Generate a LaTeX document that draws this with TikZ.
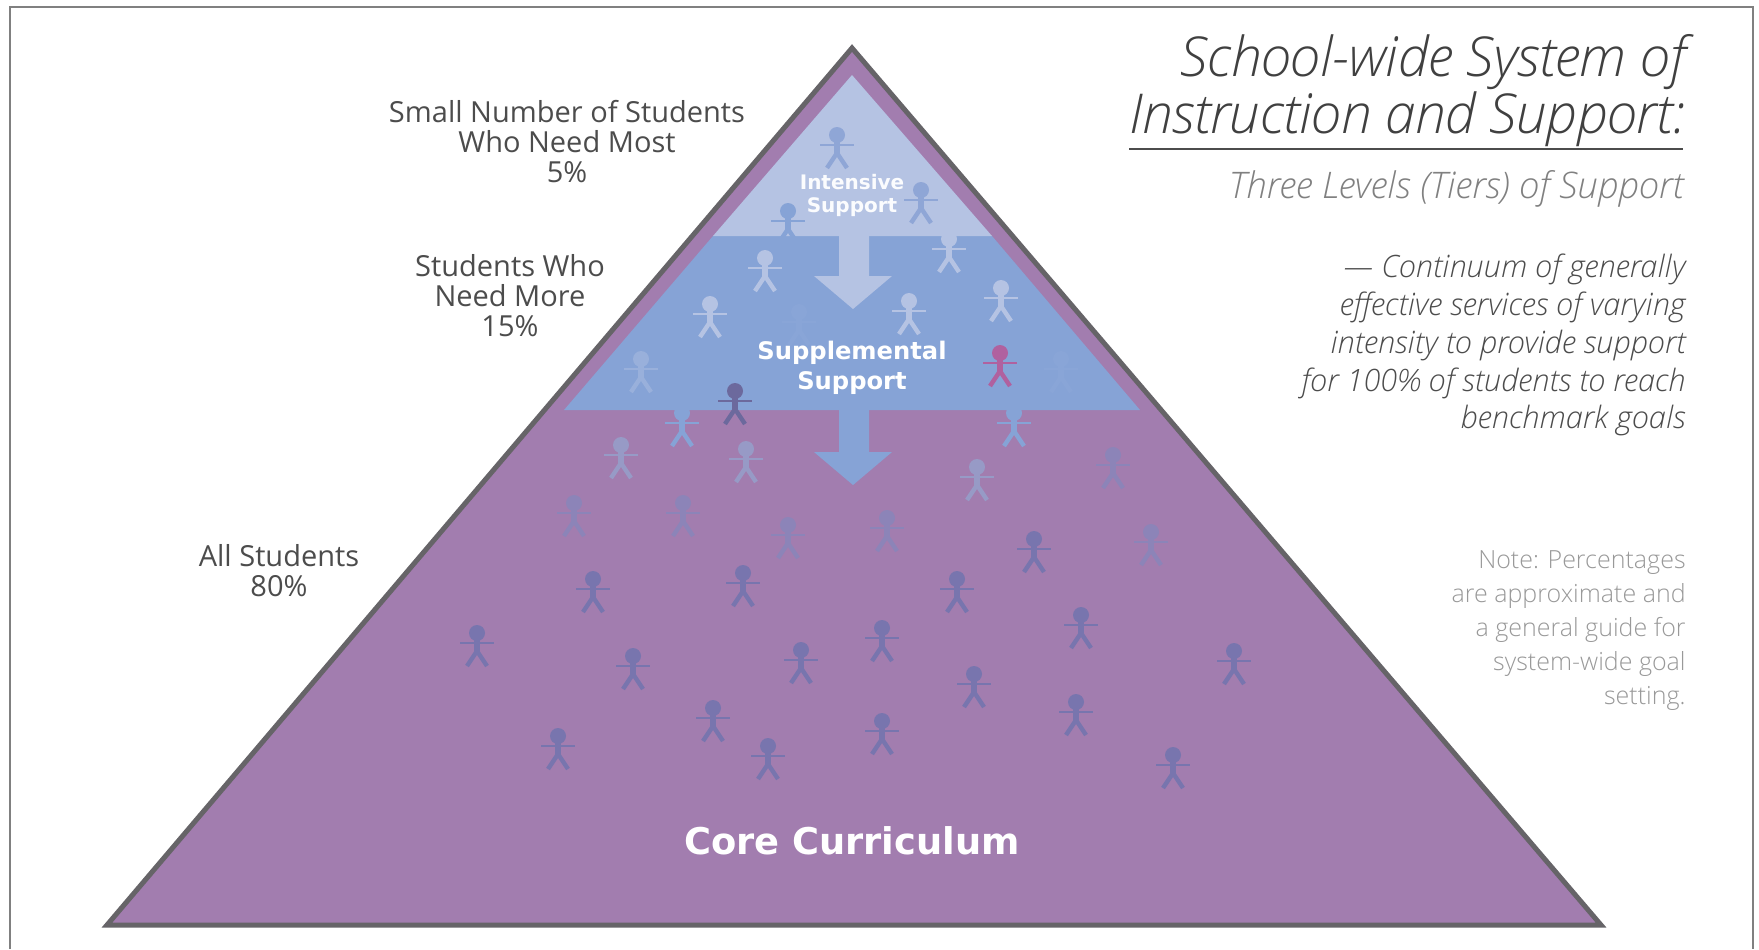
\documentclass[tikz,border=0pt]{standalone}
\usepackage{fontspec}
\setmainfont{Open Sans}
\newfontfamily\lightfont{Open Sans Light}
\newfontfamily\tierfont{DejaVu Sans}
\definecolor{coreclr}{HTML}{A27DAF}
\definecolor{intenseclr}{HTML}{B5C3E3}
\definecolor{supclr}{HTML}{86A3D6}
\definecolor{edgeclr}{HTML}{666468}
\definecolor{kidtopclr}{HTML}{8FA6D6}
\definecolor{kidfaintclr}{HTML}{979AC6}
\definecolor{kidmidclr}{HTML}{8C84B8}
\definecolor{kiddarkclr}{HTML}{7875AE}
\definecolor{kidpinkclr}{HTML}{B0619F}
\begin{document}
\begin{tikzpicture}[x=0.5pt,y=-0.5pt,
  kid/.pic={
    \fill (0,-13) circle (8);
    \draw[line width=2.8pt] (0,-13) -- (0,6);
    \draw[line width=1.1pt] (-17,-3) -- (17,-3);
    \draw[line width=2.2pt] (-10,20) -- (0,5) -- (10,20);
  },
  label/.style={text=black!70,align=center,font=\fontsize{14.5}{15}\selectfont},
  tier/.style={text=white,align=center,font=\tierfont\bfseries\fontsize{12.1}{15}\selectfont},
  ]
\useasboundingbox (0,0) rectangle (1759,949);
\draw[black!50,line width=1pt] (10,949) -- (10,7) -- (1753,7) -- (1753,949);
% the three tiers
\draw[fill=coreclr,draw=edgeclr,line width=2.5pt] (852,48) -- (1601,925) -- (107,925) -- cycle;
\fill[supclr] (713,236) -- (992,236) -- (1140,410) -- (564,410) -- cycle;
\fill[intenseclr] (852,75) -- (992,236) -- (713,236) -- cycle;
\fill[intenseclr] (839,236) -- (869,236) -- (869,276) -- (892,276) -- (853,309) -- (814,276) -- (839,276) -- cycle;
\fill[supclr] (839,410) -- (869,410) -- (869,452) -- (892,452) -- (853,485) -- (814,452) -- (839,452) -- cycle;
% students
\foreach \px/\py in {837/148,921/203} {
  \pic[color=kidtopclr] at (\px,\py) {kid};
}
\foreach \px/\py in {788/224,682/426,1014/426} {
  \pic[color=supclr] at (\px,\py) {kid};
}
\foreach \px/\py in {949/252,765/271,710/317,909/314,1001/301} {
  \pic[color=intenseclr] at (\px,\py) {kid};
}
\pic[color=supclr!60!intenseclr] at (641,372) {kid};
\foreach \px/\py in {799/325,1061/372} {
  \pic[color=supclr!93!intenseclr] at (\px,\py) {kid};
}
\pic[color=kidpinkclr] at (1000,366) {kid};
\pic[color=kiddarkclr!90!black] at (735,404) {kid};
\foreach \px/\py in {621/458,746/462,977/480} {
  \pic[color=kidfaintclr] at (\px,\py) {kid};
}
\foreach \px/\py in {1113/468,574/516,683/516,788/538,887/531,1151/545} {
  \pic[color=kidmidclr] at (\px,\py) {kid};
}
\foreach \px/\py in {1034/552,593/592,743/586,957/592,1081/628,882/641,801/663,633/669,974/687,1076/715,713/721,882/734,558/749,768/759,1173/768,477/646,1234/664} {
  \pic[color=kiddarkclr] at (\px,\py) {kid};
}
% labels
\node[tier,font=\tierfont\bfseries\fontsize{10}{11.5}\selectfont,text=white!95!intenseclr] (intensive) at (852,195) {Intensive\\Support};
\node[tier] (supplemental) at (852,368) {Supplemental\\Support};
\node[tier,font=\tierfont\bfseries\fontsize{18.4}{20}\selectfont] (core) at (852,841) {Core Curriculum};
\node[label] (few) at (567,142) {Small Number of Students\\Who Need Most\\5\%};
\node[label] (some) at (510,296) {Students Who\\Need More\\15\%};
\node[label] (all) at (279,571) {All Students\\80\%};
\node[anchor=south east,inner sep=0pt,align=right,text=black!75,font=\lightfont\itshape\addfontfeature{LetterSpace=-1}\fontsize{27.5}{25.5}\selectfont] (title) at (1686,147) {School-wide System of\\Instruction and Support:};
\draw[black!70,line width=1pt] (1129,149) -- (1683,149);
\node[anchor=base east,inner sep=0pt,text=black!50,font=\lightfont\itshape\fontsize{18.3}{20}\selectfont] (levels) at (1684,198) {Three Levels (Tiers) of Support};
\node[anchor=north east,inner sep=0pt,align=right,text=black!70,font=\lightfont\itshape\fontsize{15.4}{18.85}\selectfont] (continuum) at (1686,254) {— Continuum of generally\\effective services of varying\\intensity to provide support\\for 100\% of students to reach\\benchmark goals};
\node[anchor=north east,inner sep=0pt,align=right,text=black!40,font=\lightfont\fontsize{12.5}{17}\selectfont] (note) at (1686,550) {Note: Percentages\\are approximate and\\a general guide for\\system-wide goal\\setting.};
\end{tikzpicture}
\end{document}
